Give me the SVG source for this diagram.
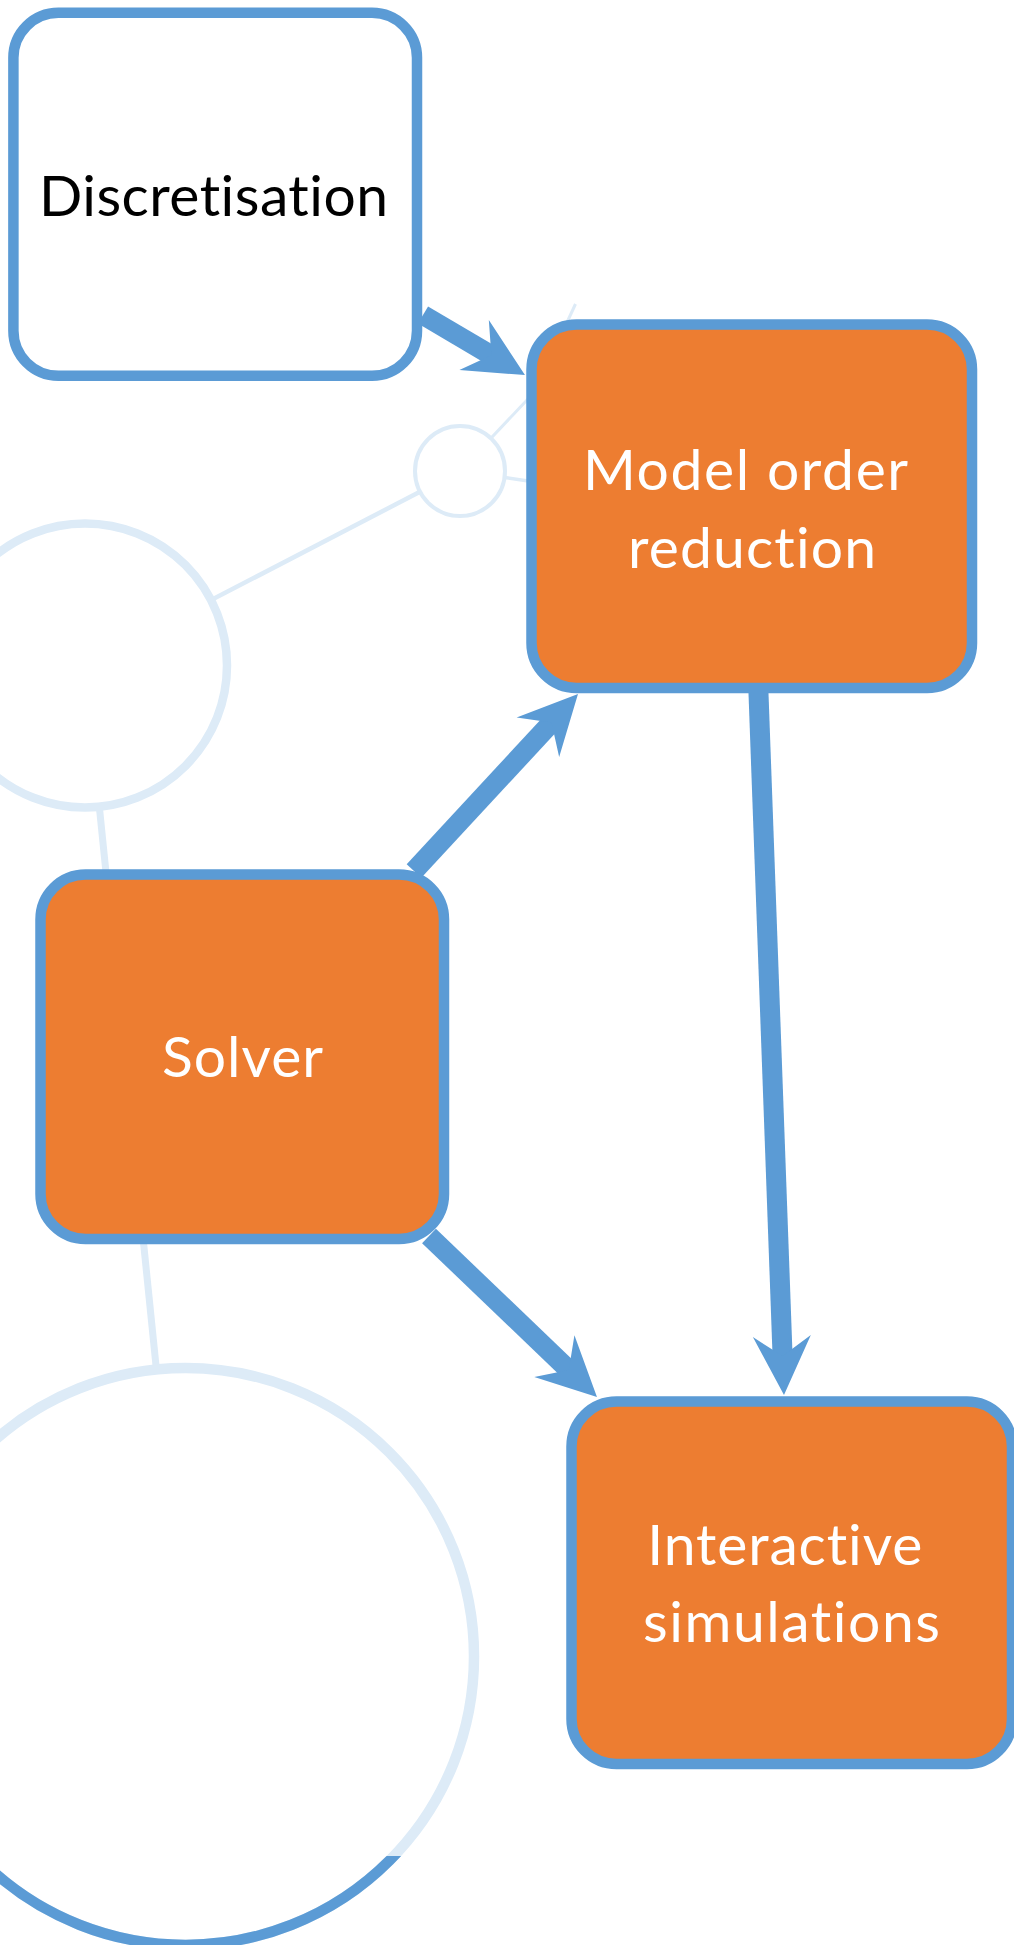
<svg xmlns="http://www.w3.org/2000/svg" width="1014" height="1945" viewBox="0 0 1014 1945">
  <style>
    .faint { stroke: #DDEBF7; fill: none; }
    .fcirc { stroke: #DDEBF7; fill: #FFFFFF; }
    .box { stroke: #5B9BD5; stroke-width: 10.5; }
    .white { fill: #FFFFFF; }
    .orange { fill: #ED7D31; }
    .conn { stroke: #5B9BD5; stroke-width: 20; fill: none; marker-end: url(#head); }
    .lbl { font-family: Lato, Carlito, "Liberation Sans", sans-serif; font-size: 57px; text-anchor: middle; font-variant-ligatures: none; font-feature-settings: "liga" 0, "clig" 0, "dlig" 0; }
  </style>
  <defs>
    <marker id="head" markerUnits="userSpaceOnUse" viewBox="0 0 100 60" markerWidth="100" markerHeight="60" refX="60" refY="30" orient="auto" overflow="visible">
      <path d="M 90 30 L 31 1 L 51 30 L 31 59 Z" fill="#5B9BD5"/>
    </marker>
    <clipPath id="lowerClip">
      <rect x="-10" y="1856" width="1040" height="100"/>
    </clipPath>
  </defs>

  <g id="background">
    <line class="faint" x1="460" y1="471" x2="85" y2="665.5" stroke-width="4.5"/>
    <line class="faint" x1="85" y1="665.5" x2="185.5" y2="1656.5" stroke-width="7"/>
    <line class="faint" x1="460" y1="471" x2="545" y2="381" stroke-width="3"/>
    <line class="faint" x1="460" y1="471" x2="545" y2="483.5" stroke-width="3.5"/>
    <line class="faint" x1="575.5" y1="304" x2="563" y2="331" stroke-width="3"/>
    <circle id="circle-small" class="fcirc" cx="460" cy="471" r="45" stroke-width="4"/>
    <circle id="circle-medium" class="fcirc" cx="85" cy="665.5" r="142" stroke-width="8.5"/>
    <circle id="circle-large" class="fcirc" cx="185.5" cy="1656.5" r="288.5" stroke-width="10.5"/>
    <circle cx="185.5" cy="1656.5" r="288.5" fill="none" stroke="#5B9BD5" stroke-width="10.5" clip-path="url(#lowerClip)"/>
  </g>

  <g id="connectors">
    <line class="conn" x1="423" y1="315" x2="499.1" y2="359.8"/>
    <line class="conn" x1="414" y1="871" x2="557.6" y2="716.0"/>
    <line class="conn" x1="758.3" y1="688" x2="782.9" y2="1365.0"/>
    <line class="conn" x1="429" y1="1236" x2="575.3" y2="1376.2"/>
  </g>

  <g id="node-discretisation">
    <rect class="box white" x="13.4" y="12.8" width="403.6" height="363" rx="45" ry="45"/>
    <text class="lbl" x="213.5" y="216" fill="#000000" textLength="349">Discretisation</text>
  </g>

  <g id="node-mor">
    <rect class="box orange" x="531.5" y="324.5" width="440.5" height="363.5" rx="45" ry="45"/>
    <text class="lbl" fill="#FFFFFF">
      <tspan x="753" y="490" textLength="324">Model order</tspan>
      <tspan x="752" y="568" textLength="248">reduction</tspan>
    </text>
  </g>

  <g id="node-solver">
    <rect class="box orange" x="40.5" y="874.5" width="403.5" height="364.5" rx="45" ry="45"/>
    <text class="lbl" x="242.5" y="1077" fill="#FFFFFF" textLength="161">Solver</text>
  </g>

  <g id="node-interactive">
    <rect class="box orange" x="571.5" y="1401.5" width="440.5" height="362.5" rx="45" ry="45"/>
    <text class="lbl" fill="#FFFFFF">
      <tspan x="792.5" y="1565" textLength="275">Interactive</tspan>
      <tspan x="791.5" y="1642" textLength="297">simulations</tspan>
    </text>
  </g>
</svg>
